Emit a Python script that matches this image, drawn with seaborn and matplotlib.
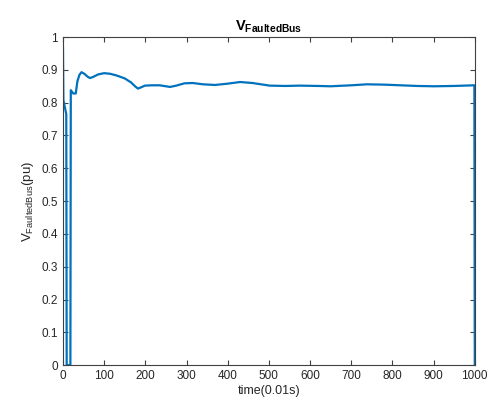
import matplotlib
matplotlib.use("Agg")
import matplotlib.pyplot as plt
import seaborn as sns
import pandas as pd

time_vals = [0, 1, 8, 9, 18, 19, 25, 31, 35, 40, 45, 52, 60, 66, 74, 85, 100, 115,
             130, 150, 165, 175, 182, 190, 199, 215, 235, 250, 260, 275, 295, 315,
             340, 369, 400, 430, 460, 502, 540, 575, 620, 650, 700, 738, 780, 820,
             860, 900, 950, 999, 1000]
v_faulted = [0.97, 0.808, 0.765, 0.0, 0.0, 0.838, 0.828, 0.828, 0.865, 0.885, 0.893,
             0.888, 0.879, 0.875, 0.879, 0.886, 0.890, 0.888, 0.883, 0.874, 0.862,
             0.850, 0.843, 0.847, 0.852, 0.853, 0.853, 0.850, 0.848, 0.852, 0.859,
             0.860, 0.856, 0.854, 0.858, 0.863, 0.860, 0.852, 0.851, 0.852, 0.851,
             0.850, 0.853, 0.856, 0.855, 0.853, 0.851, 0.850, 0.851, 0.853, 0.0]
x_ticks = [0, 100, 200, 300, 400, 500, 600, 700, 800, 900, 1000]
y_ticks = [0, 0.1, 0.2, 0.3, 0.4, 0.5, 0.6, 0.7, 0.8, 0.9, 1]
y_tick_labels = ["0", "0.1", "0.2", "0.3", "0.4", "0.5", "0.6", "0.7", "0.8", "0.9", "1"]

sns.set_style("ticks")
plt.rcParams['font.family'] = ['Liberation Sans', 'DejaVu Sans']
plt.rcParams['mathtext.fontset'] = 'custom'
plt.rcParams['mathtext.rm'] = 'Liberation Sans'
plt.rcParams['mathtext.bf'] = 'Liberation Sans:bold'
plt.rcParams['mathtext.it'] = 'Liberation Sans:italic'

df = pd.DataFrame({"time": time_vals, "V": v_faulted})

fig = plt.figure(figsize=(4.92, 4.03), dpi=100)
ax = fig.add_axes([0.128, 0.094, 0.837, 0.814])
sns.lineplot(data=df, x="time", y="V", ax=ax, color="#0072BD", linewidth=1.6,
             estimator=None, sort=False)

ax.set_xlim(0, 1000)
ax.set_ylim(0, 1)
ax.set_xticks(x_ticks)
ax.set_xticklabels([str(t) for t in x_ticks])
ax.set_yticks(y_ticks)
ax.set_yticklabels(y_tick_labels)

axc = "#404040"
for s in ax.spines.values():
    s.set_visible(True)
    s.set_color(axc)
    s.set_linewidth(0.8)
ax.tick_params(direction="in", top=True, right=True, length=3.5, width=0.8,
               colors=axc, labelsize=8.5, labelcolor="#262626")

ax.set_xlabel("time(0.01s)", fontsize=9, color="#262626", labelpad=2)
ax.set_ylabel(r"$\mathrm{V}_{\mathrm{FaultedBus}}$(pu)", fontsize=9.5, color="#262626", labelpad=4)
ax.set_title(r"$\mathbf{V}_{\mathbf{FaultedBus}}$", fontsize=10.5, color="#000000", pad=5)

fig.savefig("out.png", dpi=100)
